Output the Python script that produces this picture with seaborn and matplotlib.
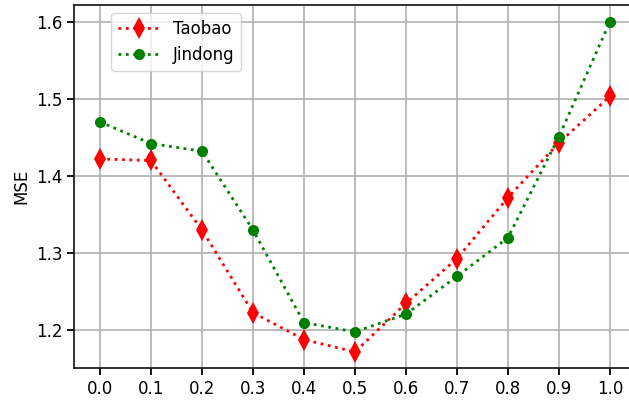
import numpy as np
import matplotlib
matplotlib.use("Agg")
import matplotlib.pyplot as plt
import seaborn as sns

# Data
ratios = [0.0, 0.1, 0.2, 0.3, 0.4, 0.5, 0.6, 0.7, 0.8, 0.9, 1.0]
taobao = [1.422, 1.420, 1.330, 1.223, 1.188, 1.172, 1.235, 1.293, 1.372, 1.443, 1.503]
jindong = [1.470, 1.442, 1.432, 1.330, 1.210, 1.198, 1.221, 1.270, 1.320, 1.451, 1.600]
xtick_labels = ["%.1f" % v for v in ratios]
yticks = [1.2, 1.3, 1.4, 1.5, 1.6]

plt.rcParams['font.family'] = ['DejaVu Sans']
plt.rcParams['font.size'] = 12

fig = plt.figure(figsize=(6.29, 4.01), dpi=100)
# axes run slightly past the right edge, like the cropped original
ax = fig.add_axes([0.1184, 0.0815, 0.8919, 0.906])

sns.lineplot(x=ratios, y=taobao, ax=ax, color='red', linestyle=':', linewidth=2,
             marker='d', markersize=11, markeredgecolor='red', markeredgewidth=0,
             label='Taobao')
sns.lineplot(x=ratios, y=jindong, ax=ax, color='green', linestyle=':', linewidth=2,
             marker='o', markersize=8, markeredgecolor='green', markeredgewidth=0,
             label='Jindong')

ax.set_xlim(-0.05, 1.05)
ax.set_ylim(1.1508, 1.6214)
ax.set_xticks(ratios)
ax.set_xticklabels(xtick_labels)
ax.set_yticks(yticks)
ax.set_ylabel('MSE')
ax.grid(True, color='#b0b0b0', linewidth=1.2)
ax.set_axisbelow(True)
for s in ax.spines.values():
    s.set_linewidth(1.3)
    s.set_color('#222222')
ax.tick_params(length=5, width=1.3, labelsize=12)

ax.legend(loc='upper left', bbox_to_anchor=(0.066, 0.978), borderaxespad=0,
          fontsize=12, handlelength=2.5)

fig.savefig('out.png', dpi=100)
